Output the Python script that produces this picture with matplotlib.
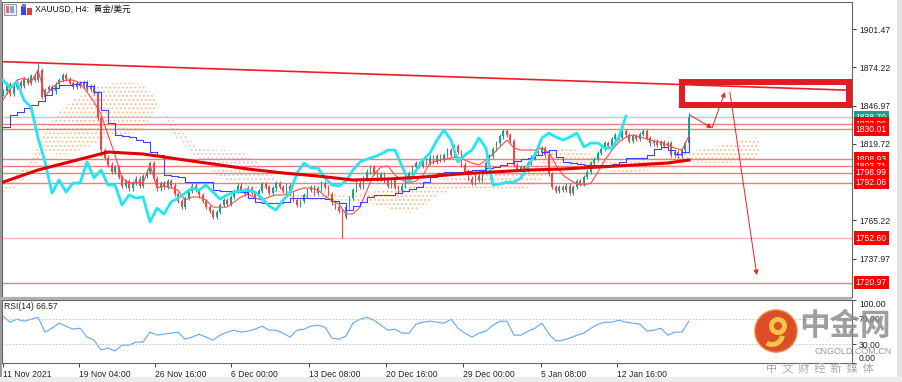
import numpy as np
import matplotlib.pyplot as plt
from matplotlib.patches import Rectangle, Circle, Wedge

plt.rcParams['font.family'] = ['Liberation Sans', 'Noto Sans CJK SC']
plt.rcParams['hatch.linewidth'] = 0.9

# ---- data (H4 bars, one candle = 2 bars) ----
closes = [1857, 1862, 1855, 1860, 1864, 1861, 1866, 1863, 1868, 1865,
          1872, 1853, 1858, 1860, 1857, 1862, 1865, 1869, 1866, 1863,
          1860, 1863, 1861, 1864, 1859, 1861, 1856, 1838, 1815, 1810,
          1805, 1800, 1803, 1796, 1790, 1793, 1788, 1792, 1795, 1790,
          1797, 1800, 1806, 1795, 1788, 1792, 1789, 1793, 1790, 1784,
          1779, 1775, 1781, 1786, 1790, 1787, 1783, 1779, 1775, 1772,
          1768, 1771, 1776, 1780, 1777, 1782, 1786, 1790, 1787, 1784,
          1788, 1785, 1782, 1786, 1791, 1789, 1785, 1788, 1792, 1789,
          1786, 1790, 1784, 1780, 1776, 1779, 1783, 1787, 1789, 1785,
          1788, 1792, 1789, 1784, 1778, 1775, 1772, 1768, 1775, 1781,
          1787, 1792, 1789, 1795, 1800, 1803, 1799, 1795, 1798, 1793,
          1790, 1794, 1789, 1786, 1790, 1795, 1799, 1803, 1806, 1804,
          1808, 1806, 1810, 1807, 1811, 1808, 1812, 1815, 1812, 1818,
          1814, 1805, 1800, 1795, 1792, 1797, 1794, 1800, 1806, 1811,
          1816, 1820, 1825, 1829, 1826, 1822, 1805, 1802, 1803, 1801,
          1806, 1810, 1814, 1813, 1817, 1812, 1798, 1789, 1786, 1789,
          1787, 1790, 1785, 1789, 1793, 1791, 1796, 1800, 1806, 1809,
          1813, 1816, 1820, 1818, 1823, 1826, 1824, 1829, 1826, 1822,
          1825, 1823, 1827, 1829, 1824, 1820, 1822, 1819, 1821, 1818,
          1820, 1812, 1814, 1811, 1815, 1820, 1838.7]
first_open = 1855
wick = 1.5
low_wicks = {97: 1753.0, 28: 1811.0}
high_wicks = {10: 1877.0, 196: 1841.5}

# sampled every 2 candles
tenkan = [1850.9, 1859.5, 1865.1, 1866.6, 1863.7, 1872.3, 1853.8, 1859.5, 1863.7, 1865.1,
          1865.1, 1863.0, 1856.6, 1849.5, 1840.9, 1826.0, 1811.8, 1795.4, 1791.8, 1792.5,
          1791.8, 1804.6, 1788.3, 1789.7, 1788.3, 1786.8, 1779.7, 1781.9, 1781.9, 1779.7,
          1774.7, 1774.7, 1774.7, 1778.3, 1781.9, 1784.0, 1781.1, 1779.7, 1781.9, 1783.3,
          1783.3, 1784.7, 1786.8, 1788.3, 1788.3, 1786.8, 1782.6, 1779.0, 1776.9, 1769.8,
          1769.8, 1774.7, 1786.8, 1798.2, 1803.2, 1803.9, 1797.5, 1794.0, 1791.8, 1793.3,
          1797.5, 1806.1, 1807.5, 1808.9, 1809.6, 1810.4, 1808.2, 1806.1, 1804.6, 1808.2,
          1812.5, 1817.5, 1822.4, 1816.7, 1815.3, 1815.3, 1815.3, 1816.7, 1813.9, 1804.6,
          1797.5, 1794.0, 1791.1, 1790.4, 1791.8, 1799.7, 1808.2, 1815.3, 1821.0, 1824.6,
          1826.0, 1824.6, 1823.2, 1821.7, 1821.0, 1818.9, 1816.7, 1815.3, 1825.3]
kijun = [1831.7, 1840.2, 1842.4, 1845.2, 1847.4, 1850.2, 1854.5, 1859.5, 1861.6, 1861.6,
         1862.3, 1863.7, 1860.9, 1856.6, 1843.8, 1834.5, 1826.0, 1825.3, 1824.6, 1822.4,
         1821.0, 1813.9, 1811.8, 1797.5, 1796.8, 1796.1, 1792.5, 1792.5, 1792.5, 1792.5,
         1786.8, 1786.1, 1786.1, 1785.4, 1785.4, 1781.1, 1778.3, 1777.6, 1777.6, 1777.6,
         1778.3, 1781.1, 1781.1, 1781.1, 1781.1, 1781.1, 1780.4, 1779.0, 1777.6, 1772.6,
         1775.5, 1778.3, 1781.9, 1783.3, 1783.3, 1783.3, 1784.7, 1786.1, 1787.6, 1789.0,
         1792.5, 1796.1, 1799.0, 1799.7, 1799.7, 1799.7, 1800.4, 1801.1, 1801.1, 1802.5,
         1803.2, 1804.6, 1806.1, 1807.5, 1808.9, 1809.6, 1811.8, 1813.9, 1815.3, 1810.4,
         1806.8, 1806.1, 1805.4, 1804.6, 1804.6, 1804.6, 1804.6, 1805.4, 1806.8, 1809.6,
         1809.6, 1809.6, 1811.8, 1816.0, 1817.5, 1815.3, 1812.5, 1813.9, 1824.6]
chikou = [1865.1, 1859.5, 1863.7, 1850.9, 1845.9, 1823.9, 1806.8, 1784.7, 1794.0, 1785.4,
          1791.8, 1791.8, 1806.8, 1795.4, 1801.1, 1790.4, 1790.4, 1776.2, 1783.3, 1781.1,
          1781.9, 1764.1, 1774.0, 1769.8, 1778.3, 1781.1, 1784.7, 1788.3, 1786.8, 1790.4,
          1785.4, 1780.4, 1783.3, 1785.4, 1786.1, 1786.8, 1785.4, 1781.1, 1775.5, 1772.6,
          1779.7, 1784.7, 1799.0, 1806.1, 1802.5, 1802.5, 1795.4, 1790.4, 1789.7, 1793.3,
          1801.1, 1806.8, 1808.9, 1810.4, 1812.5, 1815.3, 1815.3, 1803.9, 1792.5, 1800.4,
          1808.2, 1813.2, 1822.4, 1829.6, 1822.4, 1806.8, 1811.8, 1815.3, 1823.9, 1816.7,
          1790.4, 1791.1, 1792.5, 1792.5, 1795.4, 1803.9, 1811.8, 1823.9, 1827.4, 1824.6,
          1822.4, 1824.6, 1827.4, 1817.5, 1820.3, 1820.3, 1816.7, 1816.7, 1824.6, 1839.5]
rsi = [74.2, 64.8, 69.5, 66.4, 69.5, 72.7, 49.0, 55.3, 63.2, 58.5,
       53.7, 55.3, 41.1, 36.3, 20.5, 23.7, 19.0, 28.4, 28.4, 33.2,
       33.2, 49.0, 44.2, 45.8, 47.4, 49.0, 37.9, 41.1, 45.8, 41.1,
       36.3, 44.2, 49.0, 52.1, 49.0, 50.6, 53.7, 58.5, 52.1, 52.1,
       47.4, 41.1, 52.1, 53.7, 58.5, 60.0, 56.9, 39.5, 37.9, 42.7,
       63.2, 69.5, 72.7, 67.9, 60.0, 52.1, 53.7, 47.4, 47.4, 61.6,
       64.8, 66.4, 64.8, 63.2, 69.5, 55.3, 47.4, 41.1, 47.4, 50.6,
       60.0, 66.4, 66.4, 44.2, 44.2, 50.6, 55.3, 63.2, 45.8, 34.8,
       36.3, 39.5, 44.2, 47.4, 55.3, 61.6, 64.8, 64.8, 67.9, 64.8,
       63.2, 61.6, 50.6, 52.1, 55.3, 44.2, 49.0, 49.0, 66.6]

# sampled every 4 candles (cloud runs 26 bars ahead)
span_a = [1791.8, 1798.2, 1806.8, 1829.6, 1842.4, 1850.9, 1855.9, 1861.6, 1863.0, 1863.0,
          1862.3, 1850.9, 1827.4, 1818.2, 1808.2, 1799.0, 1793.3, 1789.7, 1788.3, 1786.1,
          1784.7, 1783.3, 1785.4, 1786.1, 1783.3, 1782.6, 1784.7, 1786.8, 1789.7, 1791.8,
          1792.5, 1794.0, 1795.4, 1796.8, 1798.2, 1799.7, 1800.4, 1801.1, 1802.5, 1813.9,
          1816.7, 1815.3, 1812.5, 1809.6, 1806.1, 1807.5, 1808.9, 1809.6, 1809.6, 1813.9,
          1816.0, 1818.2, 1820.3, 1823.1, 1824.6]
span_b = [1785.4, 1789.0, 1801.1, 1813.9, 1811.8, 1813.9, 1816.7, 1822.4, 1825.3, 1826.7,
          1829.6, 1846.6, 1838.1, 1826.0, 1816.7, 1815.3, 1815.3, 1813.9, 1808.2, 1799.0,
          1788.3, 1782.6, 1779.7, 1779.7, 1779.7, 1779.0, 1777.6, 1775.5, 1772.6, 1770.5,
          1774.7, 1782.6, 1786.8, 1788.3, 1788.3, 1788.3, 1787.6, 1786.8, 1790.4, 1799.7,
          1802.5, 1803.2, 1802.5, 1801.1, 1799.0, 1799.7, 1800.4, 1803.2, 1806.1, 1806.8,
          1806.1, 1806.1, 1806.1, 1808.2, 1809.6]

ma_idx = [0, 10, 20, 30, 40, 50, 60, 70, 80, 90, 100, 110, 120, 130, 140, 150, 160, 170, 180, 190, 196]
ma_vals = [1792.5, 1801.1, 1807.5, 1813.9, 1812.5, 1808.9, 1805.4, 1801.8, 1799.0, 1796.8,
           1794.0, 1794.7, 1796.1, 1798.2, 1799.7, 1801.1, 1801.8, 1803.2, 1804.6, 1806.1, 1808.2]

levels = [1838.70, 1833.80, 1830.01, 1808.93, 1803.71, 1798.99, 1792.06, 1752.60, 1720.97]
level_cols = ['#9fd8cf'] + ['#f27c7c'] * 6 + ['#ffb3b3', '#f27c7c']
label_cols = ['#1f9e8a'] + ['#ff0000'] * 8
price_ticks = [1901.47, 1874.22, 1846.97, 1819.72, 1765.22, 1737.97]
date_pos = [0, 21.7, 43.4, 65.1, 87.4, 109.4, 131.4, 153.7, 175.4]
date_labels = ['11 Nov 2021', '19 Nov 04:00', '26 Nov 16:00', '6 Dec 00:00', '13 Dec 08:00',
               '20 Dec 16:00', '29 Dec 00:00', '5 Jan 08:00', '12 Jan 16:00']

trend_x = [-1, 243]
trend_y = [1878.3, 1857.8]
path_x = [196.3, 202.6, 206.3]
path_y = [1840.2, 1831.0, 1856.6]
drop_x = [207.7, 215.4]
drop_y = [1856.6, 1726.3]
box_x = [193.9, 241.6]
box_y = [1847.4, 1864.1]

# ---- figure ----
fig = plt.figure(figsize=(9.03, 3.82), dpi=100)
ax = fig.add_axes([2 / 903, 85 / 382, 850 / 903, 295 / 382])
rs = fig.add_axes([2 / 903, 19 / 382, 850 / 903, 63 / 382])
xmin, xmax = -0.3, 242.6

# cloud
xc = np.arange(len(span_a)) * 4
a = np.array(span_a)
b = np.array(span_b)
ax.fill_between(xc, a, b, where=a >= b, interpolate=True, facecolor='none',
                edgecolor='#f5b07a', hatch='....', lw=0, alpha=0.75, zorder=1)
ax.fill_between(xc, a, b, where=a < b, interpolate=True, facecolor='none',
                edgecolor='#d8bfd8', hatch='....', lw=0, alpha=0.85, zorder=1)

for lv, c in zip(levels, level_cols):
    ax.axhline(lv, color=c, lw=1.0, zorder=2)

# candles
x = np.arange(len(closes))
c = np.array(closes, dtype=float)
o = np.array([first_open] + closes[:-1], dtype=float)
hi = np.maximum(o, c) + wick
lo = np.minimum(o, c) - wick
for k, v in low_wicks.items():
    lo[k] = v
for k, v in high_wicks.items():
    hi[k] = v
cols = np.where(c >= o, '#1f9e86', '#f04848')
ax.vlines(x, lo, hi, colors=cols, lw=0.8, zorder=3)
ax.bar(x, np.maximum(np.abs(c - o), 0.5), bottom=np.minimum(o, c), width=0.55,
       color=cols, lw=0, zorder=3)

xl = np.arange(len(tenkan)) * 2
ax.plot(xl, tenkan, color='#ff4a4a', lw=0.8, zorder=4)
ax.plot(np.arange(len(kijun)) * 2, kijun, color='#4040ff', lw=0.8, drawstyle='steps-post', zorder=4)
ax.plot(np.arange(len(chikou)) * 2, chikou, color='#22e6f2', lw=2.0, zorder=5)
ax.plot(ma_idx, ma_vals, color='#e00000', lw=2.2, zorder=5)
ax.plot(trend_x, trend_y, color='#ee1c24', lw=1.2, zorder=5)

ax.add_patch(Rectangle((box_x[0], box_y[0]), box_x[1] - box_x[0], box_y[1] - box_y[0],
                       fill=False, ec='#e51b23', lw=4.3, joinstyle='miter', zorder=8))
arw = dict(arrowstyle='-|>', color='#ee2222', lw=0.7, mutation_scale=7, shrinkA=0, shrinkB=0)
for i in range(len(path_x) - 1):
    ax.annotate('', xy=(path_x[i + 1], path_y[i + 1]), xytext=(path_x[i], path_y[i]), arrowprops=arw)
ax.annotate('', xy=(drop_x[1], drop_y[1]), xytext=(drop_x[0], drop_y[0]), arrowprops=arw)

ax.set_xlim(xmin, xmax)
ax.set_ylim(1710.7, 1920.7)
ax.set_xticks([])
ax.yaxis.tick_right()
ax.set_yticks(price_ticks)
ax.set_yticklabels(['%.2f' % t for t in price_ticks])
ax.tick_params(axis='y', length=3, width=0.6, pad=2, labelsize=6.2, colors='#222222')

for lv, bc in zip(levels, label_cols):
    ax.text(1.0045, lv, '%.2f' % lv, transform=ax.get_yaxis_transform(), fontsize=6.2,
            color='white', va='center', ha='left', clip_on=False, zorder=10,
            bbox=dict(boxstyle='square,pad=0.25', fc=bc, ec='none'))

ax.text(0.039, 0.975, 'XAUUSD, H4:  黄金/美元', transform=ax.transAxes, fontsize=6.2,
        va='center', ha='left', color='#111111')

# RSI
rs.plot(np.arange(len(rsi)) * 2, rsi, color='#5ea8f5', lw=0.8)
for lvl in (70, 30):
    rs.axhline(lvl, color='#bdbdbd', lw=0.6, ls=(0, (2, 2)))
rs.set_xlim(xmin, xmax)
rs.set_ylim(0, 100)
rs.yaxis.tick_right()
rs.set_yticks([100, 70, 30, 0])
rs.set_yticklabels(['100.00', '70.00', '30.00', '0.00'])
rs.tick_params(axis='y', length=3, width=0.6, pad=2, labelsize=6.2, colors='#222222')
tl = rs.get_yticklabels()
tl[0].set_va('top')
tl[3].set_va('bottom')
rs.set_xticks(date_pos)
rs.set_xticklabels(date_labels, ha='left')
rs.tick_params(axis='x', length=3, width=0.6, pad=2, labelsize=6.2, colors='#222222')
rs.text(0.002, 0.9, 'RSI(14) 66.57', transform=rs.transAxes, fontsize=6.2, va='center', color='#222222')

for axx in (ax, rs):
    for s in axx.spines.values():
        s.set_color('#666666')
        s.set_linewidth(0.8)

# decorations in pixel space
deco = fig.add_axes([0, 0, 1, 1], facecolor='none')
deco.set_xlim(0, 903)
deco.set_ylim(382, 0)
deco.axis('off')
deco.add_patch(Rectangle((0, 0), 2, 382, color='#9a9a9a', lw=0))
deco.add_patch(Rectangle((897, 0), 6, 382, color='#e4e4e4', lw=0))
deco.add_patch(Rectangle((0, 377), 903, 5, color='#ececec', lw=0))
deco.add_patch(Rectangle((0, 296.5), 852, 3, color='#b0b0b0', lw=0))
# toolbar icons
deco.add_patch(Rectangle((4, 4), 12, 11, fc='#e9eef7', ec='#7a8aa0', lw=0.6))
deco.add_patch(Rectangle((6, 6), 3.5, 7, fc='#e86a6a', lw=0))
deco.add_patch(Rectangle((10.5, 6), 3.5, 7, fc='#8aa0d8', lw=0))
deco.add_patch(Rectangle((21, 6), 5, 9, fc='#3a4ad8', lw=0))
deco.add_patch(Rectangle((27, 8), 5, 7, fc='#d84040', lw=0))
deco.add_patch(Rectangle((22, 4), 4, 3, fc='#7080c0', lw=0))

# watermark
deco.add_patch(Circle((776, 331), 21, fc='#d9441c', ec='none', alpha=0.95))
deco.add_patch(Circle((776, 331), 21, fc='none', ec='#f07a2a', lw=1.2, alpha=0.8))
deco.add_patch(Wedge((778, 326), 9, 0, 360, width=5, fc='#f6c445', ec='none'))
deco.add_patch(Wedge((772, 334), 13, 10, 120, width=5, fc='#f6c445', ec='none'))
deco.text(845, 326, '中金网', fontsize=22, fontweight='bold', color='#8e8e8e', alpha=0.85,
          ha='center', va='center', family=['Noto Sans CJK SC'])
deco.text(853, 351, 'CNGOLD.COM.CN', fontsize=6.5, color='#9a9a9a', ha='center', va='center')
deco.text(820, 368, '中  文  财  经  新  媒  体', fontsize=8, color='#a8a8a8', ha='center',
          va='center', family=['Noto Sans CJK SC'])

fig.savefig('out.png', dpi=100)
